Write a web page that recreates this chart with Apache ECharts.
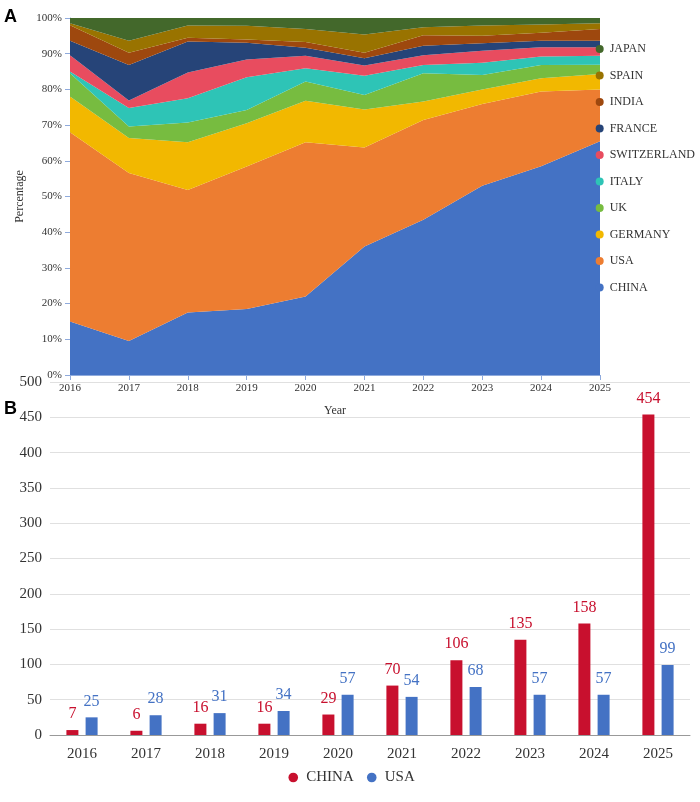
<!DOCTYPE html>
<html lang="en">
<head>
<meta charset="UTF-8">
<title>Chart</title>
<style>body{margin:0;background:#fff}#c{width:700px;height:802px}</style>
</head>
<body>
<div id="c"></div>
<script src="https://cdn.jsdelivr.net/npm/echarts@6/dist/echarts.min.js"></script>
<script>
const years = ['2016','2017','2018','2019','2020','2021','2022','2023','2024','2025'];
const countries = ['CHINA','USA','GERMANY','UK','ITALY','SWITZERLAND','FRANCE','INDIA','SPAIN','JAPAN'];
const colors = ['#4472C4','#ED7D31','#F2B800','#77BC40','#2EC4B6','#E84C5F','#264478','#9E480E','#997300','#43682B'];
// share (%) per country per year
const china   = [15, 9.5, 17.5, 18.5, 22, 36, 43.5, 53, 58.5, 65.5];
const usa     = [53, 47.1, 34.3, 39.9, 43.2, 27.7, 27.9, 22.9, 20.9, 14.5];
const germany = [10, 9.8, 13.4, 12.1, 11.6, 10.7, 5.2, 4.1, 3.7, 4.3];
const uk      = [6.5, 3.2, 5.5, 3.7, 5.4, 4.0, 7.9, 4.0, 3.7, 2.6];
const italy   = [0.5, 5.2, 6.8, 9.2, 3.7, 5.4, 2.3, 3.5, 2.4, 2.5];
const swiss   = [4.6, 2.1, 7.2, 5.0, 3.5, 2.9, 2.8, 3.3, 2.6, 2.4];
const france  = [4, 9.9, 8.7, 4.7, 2.3, 2.0, 2.6, 2.1, 1.8, 1.8];
const india   = [4.4, 3.5, 1.1, 0.9, 1.6, 1.6, 3.0, 2.1, 2.3, 3.3];
const spain   = [0.5, 3.3, 3.4, 3.8, 3.6, 5.1, 2.2, 2.9, 2.3, 1.6];
const japan   = [1.5, 6.4, 2.1, 2.2, 3.1, 4.6, 2.6, 2.1, 1.8, 1.5];
const shares = [china, usa, germany, uk, italy, swiss, france, india, spain, japan];
// counts
const chinaCount = [7, 6, 16, 16, 29, 70, 106, 135, 158, 454];
const usaCount   = [25, 28, 31, 34, 57, 54, 68, 57, 57, 99];
const barColors = ['#C8102E', '#4472C4'];

const font = 'Liberation Serif';
const chart = echarts.init(document.getElementById('c'));

const areaSeries = countries.map((n, i) => ({
  name: n, type: 'line', stack: 'total', data: shares[i],
  xAxisIndex: 0, yAxisIndex: 0, symbol: 'none',
  lineStyle: { width: 0 }, areaStyle: { color: colors[i], opacity: 1 },
  itemStyle: { color: colors[i] }
}));

chart.setOption({
  animation: false,
  textStyle: { fontFamily: font },
  color: colors,
  graphic: [
    { type: 'text', left: 4, top: 8, style: { text: 'A', font: 'bold 18px Liberation Sans', fill: '#000' } },
    { type: 'text', left: 4, top: 400, style: { text: 'B', font: 'bold 18px Liberation Sans', fill: '#000' } }
  ],
  grid: [
    { left: 70, right: 100, top: 18, height: 357 },
    { left: 50, right: 10, top: 382, height: 353 }
  ],
  legend: [
    {
      orient: 'vertical', right: 0, top: 38, itemGap: 14.5, itemWidth: 10, itemHeight: 10,
      textStyle: { fontFamily: font, fontSize: 12, color: '#333' },
      data: countries.slice().reverse().map((n, i) => ({ name: n, itemStyle: { color: colors[9 - i] } }))
    },
    {
      bottom: 12, left: 'center', itemWidth: 16, itemHeight: 12, itemGap: 10,
      textStyle: { fontFamily: font, fontSize: 15, color: '#333' },
      data: [{ name: 'CHINA', itemStyle: { color: barColors[0] } }, { name: 'USA', itemStyle: { color: barColors[1] } }]
    }
  ],
  xAxis: [
    {
      gridIndex: 0, type: 'category', data: years, boundaryGap: false,
      name: 'Year', nameLocation: 'middle', nameGap: 30,
      nameTextStyle: { fontFamily: font, fontSize: 12, color: '#333' },
      axisLine: { lineStyle: { color: '#8faadc' } },
      axisTick: { show: true, alignWithLabel: true },
      axisLabel: { fontFamily: font, fontSize: 11, color: '#333' }
    },
    {
      gridIndex: 1, type: 'category', data: years,
      axisLine: { lineStyle: { color: '#999' } }, axisTick: { show: false },
      axisLabel: { fontFamily: font, fontSize: 15, color: '#333', margin: 12 }
    }
  ],
  yAxis: [
    {
      gridIndex: 0, type: 'value', min: 0, max: 100, interval: 10,
      name: 'Percentage', nameLocation: 'middle', nameGap: 40,
      nameTextStyle: { fontFamily: font, fontSize: 12, color: '#333' },
      axisLine: { show: true, lineStyle: { color: '#8faadc' } },
      axisTick: { show: true }, splitLine: { show: false },
      axisLabel: { formatter: '{value}%', fontFamily: font, fontSize: 11, color: '#333' }
    },
    {
      gridIndex: 1, type: 'value', min: 0, max: 500, interval: 50,
      axisLine: { show: false }, axisTick: { show: false },
      splitLine: { lineStyle: { color: '#e0e0e0' } },
      axisLabel: { fontFamily: font, fontSize: 15, color: '#333' }
    }
  ],
  series: areaSeries.concat([
    {
      name: 'CHINA', type: 'bar', xAxisIndex: 1, yAxisIndex: 1, data: chinaCount,
      barWidth: 12, barGap: '60%', itemStyle: { color: barColors[0] },
      label: { show: true, position: 'top', color: barColors[0], fontFamily: font, fontSize: 16, distance: 8 }
    },
    {
      name: 'USA', type: 'bar', xAxisIndex: 1, yAxisIndex: 1, data: usaCount,
      barWidth: 12, itemStyle: { color: barColors[1] },
      label: { show: true, position: 'top', color: barColors[1], fontFamily: font, fontSize: 16, distance: 8 }
    }
  ])
});
</script>
</body>
</html>
